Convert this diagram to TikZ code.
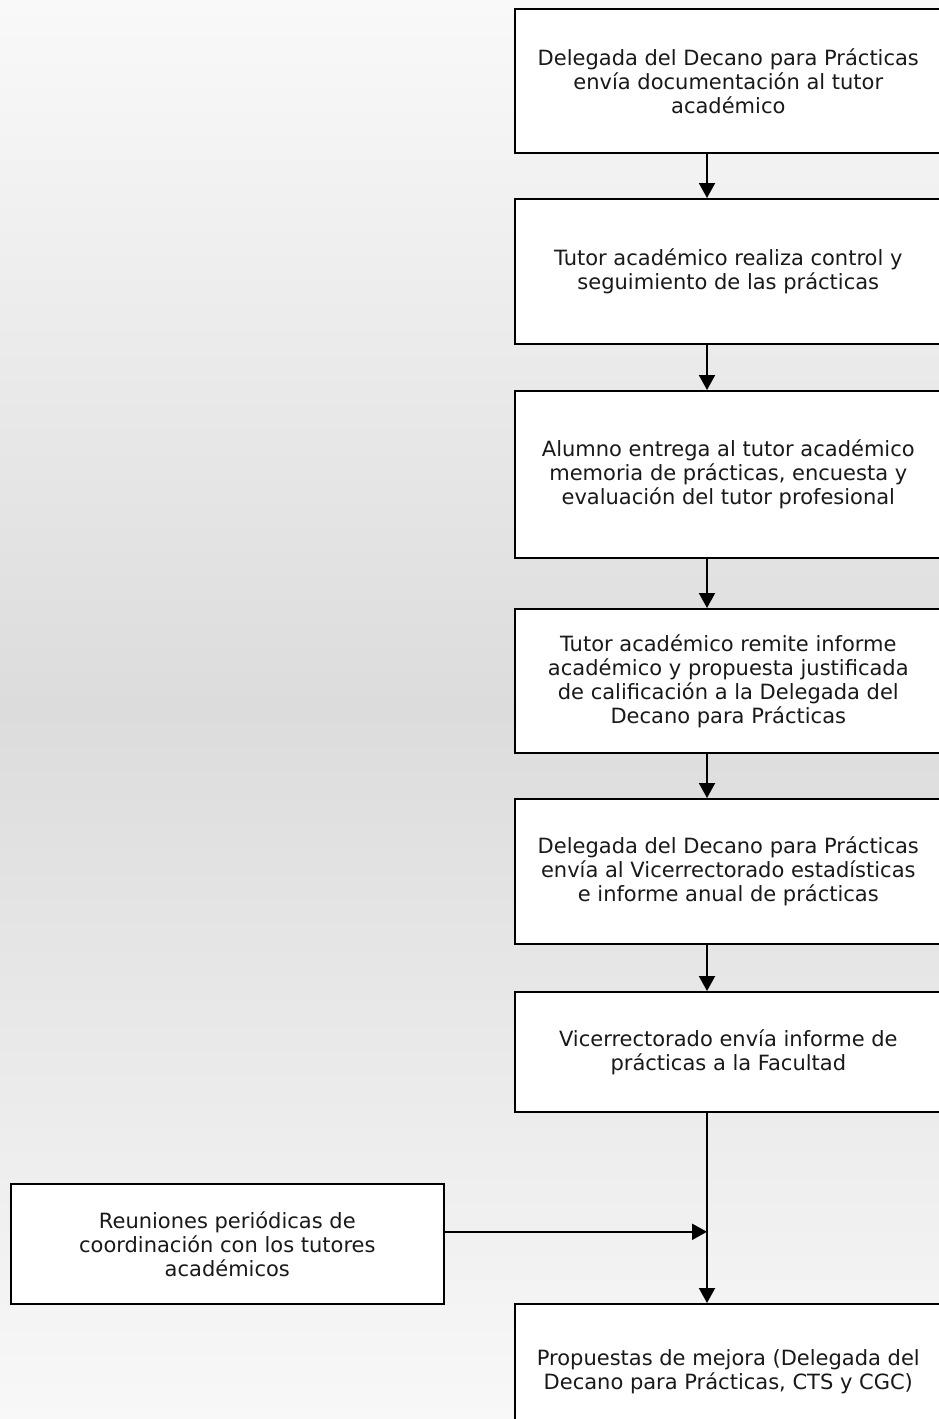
\documentclass[tikz,border=0pt]{standalone}
\usepackage{fontspec}
\setmainfont{DejaVu Sans}
\usetikzlibrary{arrows.meta,calc}
\definecolor{bgtop}{RGB}{249,249,249}
\definecolor{bgmid}{RGB}{220,220,220}
\definecolor{bgbot}{RGB}{248,248,248}
\begin{document}
\begin{tikzpicture}[x=1pt,y=-1pt,
  stepbox/.style={draw=black,fill=white,line width=1.6pt,rectangle,inner sep=0pt,
    anchor=north west,align=center,font=\fontsize{21}{24}\selectfont,text=black!90},
  arr/.style={line width=2pt,-{Triangle[width=16pt,length=15pt]}}]
\useasboundingbox (0,0) rectangle (939,1419);
\shade[top color=bgtop,bottom color=bgbot,middle color=bgmid] (0,0) rectangle (939,1419);
\begin{scope}
\clip (0,0) rectangle (939,1419);
\coordinate (xa) at (707,0);
\node[stepbox,minimum width=427pt,minimum height=144pt] (b1) at (514,8)
  {Delegada del Decano para Prácticas\\envía documentación al tutor\\académico};
\node[stepbox,minimum width=427pt,minimum height=145pt] (b2) at (514,198)
  {Tutor académico realiza control y\\seguimiento de las prácticas};
\node[stepbox,minimum width=427pt,minimum height=167pt] (b3) at (514,390)
  {Alumno entrega al tutor académico\\memoria de prácticas, encuesta y\\evaluación del tutor profesional};
\node[stepbox,minimum width=427pt,minimum height=144pt] (b4) at (514,608)
  {Tutor académico remite informe\\académico y propuesta justificada\\de calificación a la Delegada del\\Decano para Prácticas};
\node[stepbox,minimum width=427pt,minimum height=145pt] (b5) at (514,798)
  {Delegada del Decano para Prácticas\\envía al Vicerrectorado estadísticas\\e informe anual de prácticas};
\node[stepbox,minimum width=427pt,minimum height=120pt] (b6) at (514,991)
  {Vicerrectorado envía informe de\\prácticas a la Facultad};
\node[stepbox,minimum width=427pt,minimum height=136pt] (b7) at (514,1303)
  {Propuestas de mejora (Delegada del\\Decano para Prácticas, CTS y CGC)};
\node[stepbox,minimum width=433pt,minimum height=120pt] (L) at (10,1183)
  {Reuniones periódicas de\\coordinación con los tutores\\académicos};
\draw[arr] (b1.south -| xa) -- (b2.north -| xa);
\draw[arr] (b2.south -| xa) -- (b3.north -| xa);
\draw[arr] (b3.south -| xa) -- (b4.north -| xa);
\draw[arr] (b4.south -| xa) -- (b5.north -| xa);
\draw[arr] (b5.south -| xa) -- (b6.north -| xa);
\draw[arr] (b6.south -| xa) -- (b7.north -| xa);
\coordinate (Lo) at ([yshift=12pt]L.east);
\draw[arr] (Lo) -- (Lo -| xa);
\end{scope}
\end{tikzpicture}
\end{document}
